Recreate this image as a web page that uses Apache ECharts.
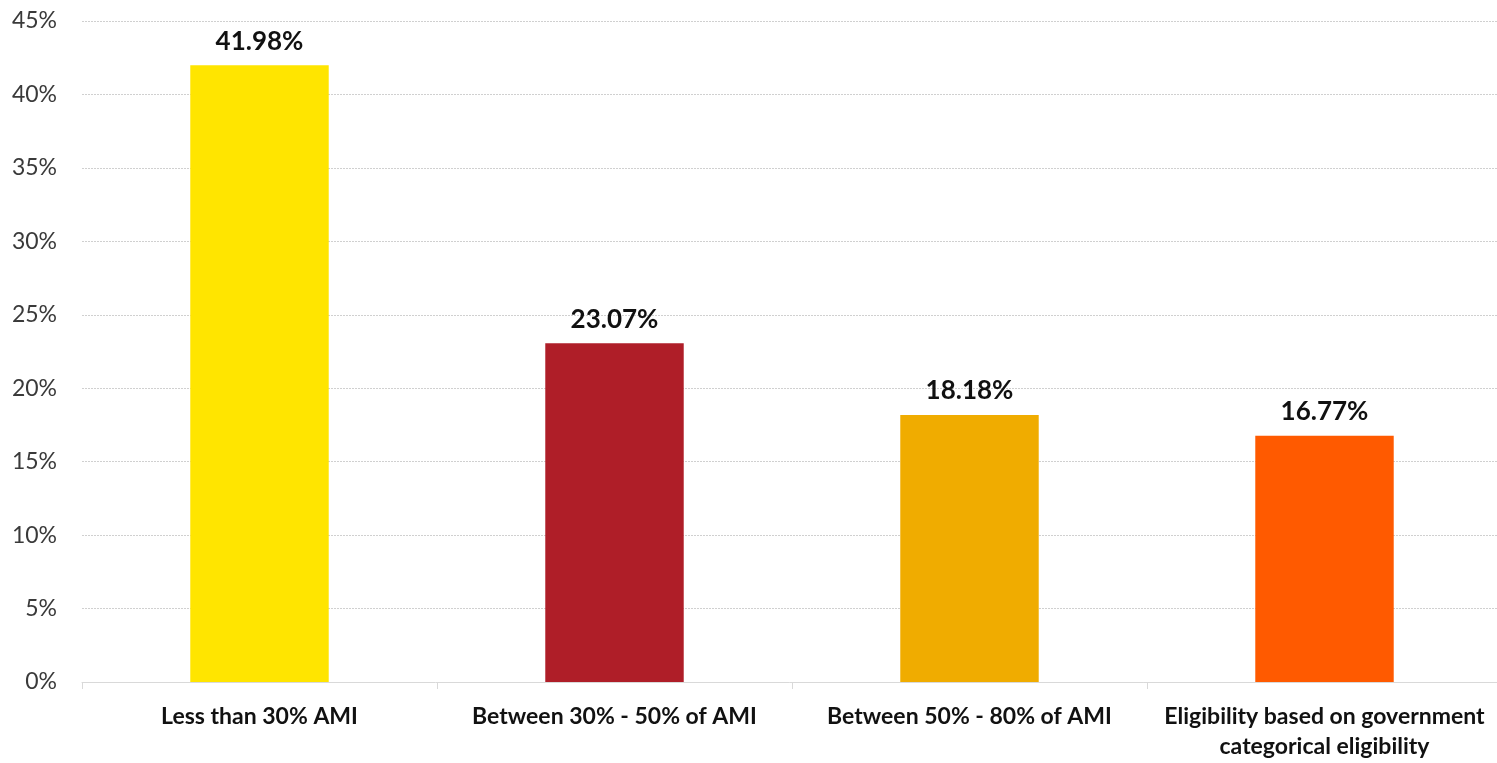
<!DOCTYPE html>
<html>
<head>
<meta charset="utf-8">
<script src="https://cdn.jsdelivr.net/npm/echarts@6/dist/echarts.min.js"></script>
<style>
  html, body { margin: 0; padding: 0; background: #ffffff; }
  #chart { width: 1497px; height: 763px; }
</style>
</head>
<body>
<div id="chart"></div>
<script>
// Share of households by income eligibility band
const categories = [
  'Less than 30% AMI',
  'Between 30% - 50% of AMI',
  'Between 50% - 80% of AMI',
  'Eligibility based on government\ncategorical eligibility'
];
const shares = [41.98, 23.07, 18.18, 16.77];
const barColors = ['#FFE500', '#AF1E28', '#F0AC00', '#FF5A00'];
const yTicks = [0, 5, 10, 15, 20, 25, 30, 35, 40, 45];

const FONT = 'Lato, "Open Sans", sans-serif';

const chart = echarts.init(document.getElementById('chart'), null, { renderer: 'canvas' });
chart.setOption({
  animation: false,
  grid: {
    left: 82, top: 21, right: -5, bottom: 81,
    containLabel: false,
    outerBoundsMode: 'none'
  },
  xAxis: {
    type: 'category',
    data: categories,
    boundaryGap: true,
    axisLine: { show: true, lineStyle: { color: '#d9d9d9', width: 1 } },
    axisTick: { show: true, alignWithLabel: false, length: 7, lineStyle: { color: '#d9d9d9' } },
    axisLabel: {
      interval: 0,
      margin: 20,
      color: '#111111',
      fontFamily: FONT,
      fontWeight: 'bold',
      fontSize: 23,
      lineHeight: 30,
      align: 'center'
    }
  },
  yAxis: {
    type: 'value',
    min: yTicks[0],
    max: yTicks[yTicks.length - 1],
    interval: 5,
    axisLine: { show: false },
    axisTick: { show: false },
    axisLabel: {
      margin: 25,
      color: '#3a3a3a',
      fontFamily: FONT,
      fontSize: 23,
      formatter: v => v + '%'
    },
    splitLine: { show: true, lineStyle: { color: '#d0d0d0', width: 1, type: [2, 1] } }
  },
  series: [{
    type: 'bar',
    barWidth: '39%',
    data: shares.map((v, i) => ({ value: v, itemStyle: { color: barColors[i] } })),
    label: {
      show: true,
      position: 'top',
      distance: 11,
      color: '#111111',
      fontFamily: FONT,
      fontWeight: 'bold',
      fontSize: 26,
      formatter: p => p.value.toFixed(2) + '%'
    }
  }]
});
</script>
</body>
</html>
